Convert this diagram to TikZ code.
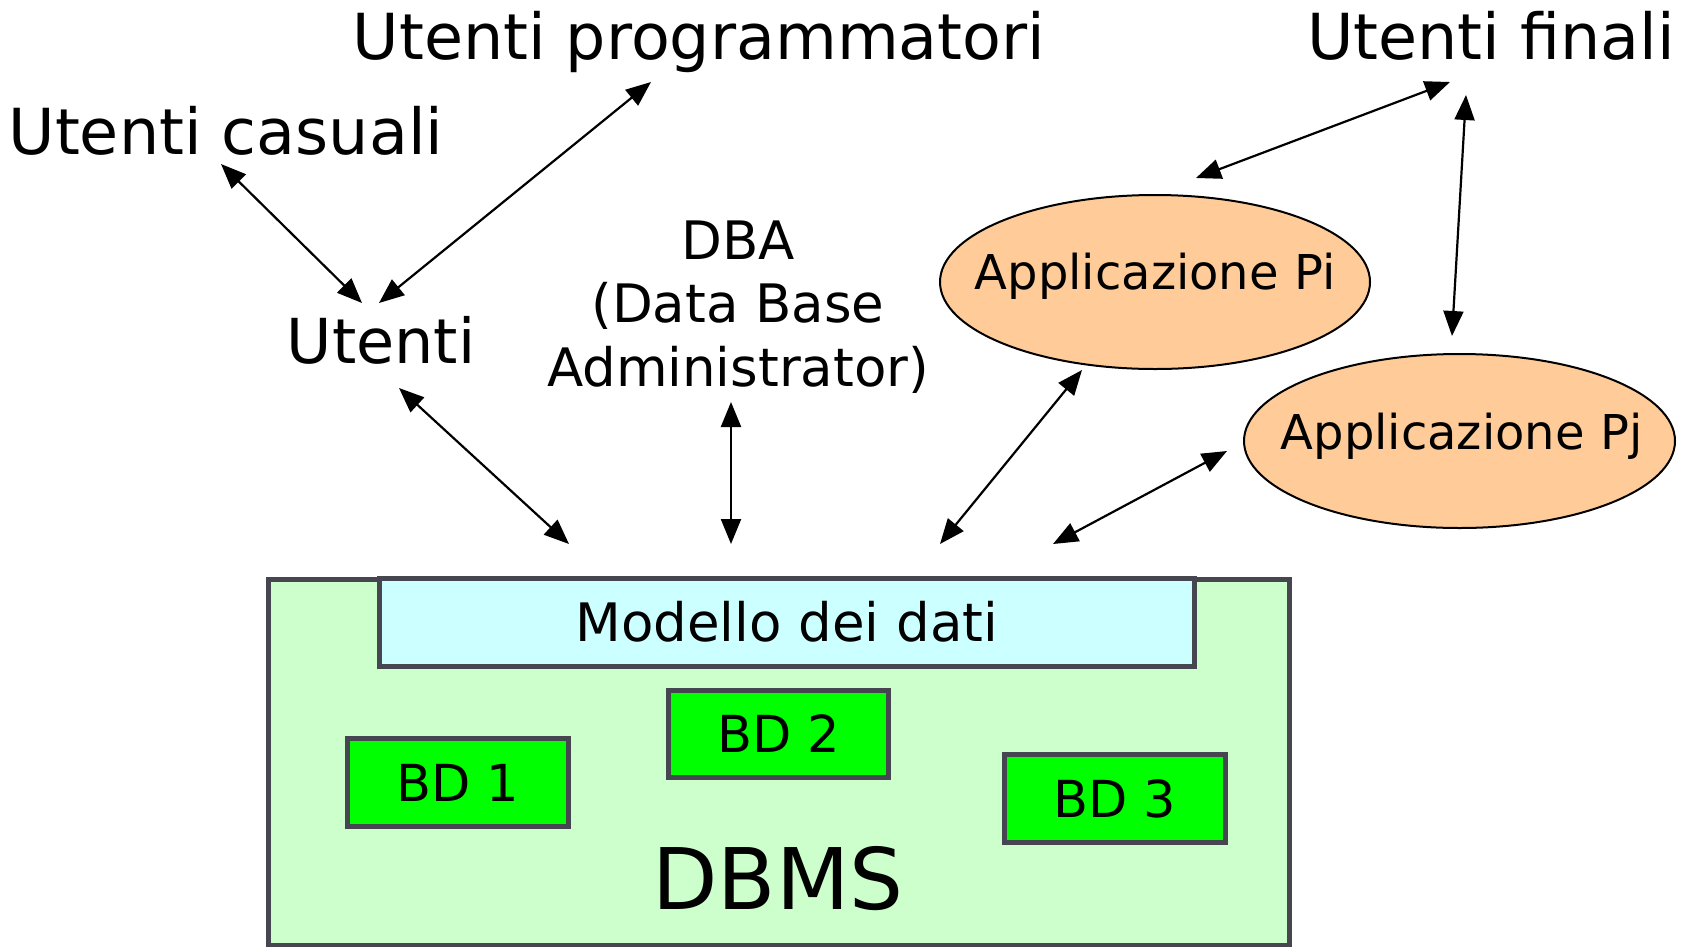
\documentclass[tikz,border=0pt]{standalone}
\usepackage{fontspec}
\setmainfont{DejaVu Sans}
\usetikzlibrary{arrows.meta,shapes.geometric}
\definecolor{appfill}{RGB}{255,204,153}
\definecolor{dbmsfill}{RGB}{204,255,204}
\definecolor{modfill}{RGB}{204,255,255}
\definecolor{bdfill}{RGB}{0,255,0}
\definecolor{boxline}{RGB}{70,70,80}
\begin{document}
\begin{tikzpicture}[x=1pt,y=-1pt,
  lbl/.style={anchor=base,inner sep=0pt,font=\fontsize{63.5}{70}\selectfont},
  conn/.style={line width=2.2pt,{Triangle[length=25pt,width=20pt]}-{Triangle[length=25pt,width=20pt]}},
  app/.style={ellipse,draw=black,line width=2pt,fill=appfill,inner sep=0pt},
  box/.style={rectangle,draw=boxline,line width=5pt,inner sep=0pt},
  bd/.style={box,fill=bdfill,minimum height=88pt,minimum width=221pt,font=\fontsize{51}{60}\selectfont}
]
\useasboundingbox (0,0) rectangle (1690,946);
\fill[white] (0,0) rectangle (1690,946);

% DBMS block
\node[box,fill=dbmsfill,minimum width=1021pt,minimum height=366pt] (dbms) at (778.5,762) {};
\node[box,fill=modfill,minimum width=814.5pt,minimum height=88pt,font=\fontsize{53}{60}\selectfont] (modello) at (786.75,622) {Modello dei dati};
\node[bd] (bd1) at (458,782.5) {BD 1};
\node[bd,minimum width=220pt,minimum height=87pt] (bd2) at (778.5,734) {BD 2};
\node[bd] (bd3) at (1115,798.5) {BD 3};
\node[lbl,font=\fontsize{85}{90}\selectfont] (dbmst) at (778,909) {DBMS};

% Applications
\node[app,minimum width=430pt,minimum height=174pt] (pi) at (1155,282) {};
\node[lbl,font=\fontsize{48}{56}\selectfont] (pitext) at (1155,289) {Applicazione Pi};
\node[app,minimum width=431pt,minimum height=174pt] (pj) at (1459.5,441) {};
\node[lbl,font=\fontsize{48}{56}\selectfont] (pjtext) at (1461.5,449) {Applicazione Pj};

% Labels
\node[lbl] (prog) at (699,59) {Utenti programmatori};
\node[lbl] (casuali) at (226,154) {Utenti casuali};
\node[lbl] (finali) at (1491,59) {Utenti finali};
\node[lbl,font=\fontsize{62}{70}\selectfont] (utenti) at (381,363) {Utenti};
\node[lbl,font=\fontsize{53}{60}\selectfont] (dba1) at (738,259) {DBA};
\node[lbl,font=\fontsize{53}{60}\selectfont] (dba2) at (738,322) {(Data Base};
\node[lbl,font=\fontsize{53}{60}\selectfont] (dba3) at (738,386) {Administrator)};

% Connector end points
\coordinate (a1s) at (221,164);  \coordinate (a1e) at (362,303);
\coordinate (a2s) at (651,82);   \coordinate (a2e) at (379,303);
\coordinate (a3s) at (399,388);  \coordinate (a3e) at (569,544);
\coordinate (a4s) at (731,402);  \coordinate (a4e) at (731,544);
\coordinate (a5s) at (1082,370); \coordinate (a5e) at (940,544);
\coordinate (a6s) at (1227,451); \coordinate (a6e) at (1053,544);
\coordinate (a7s) at (1450,82);  \coordinate (a7e) at (1196,178);
\coordinate (a8s) at (1466,95);  \coordinate (a8e) at (1452,336);

\draw[conn] (a1s) -- (a1e);
\draw[conn] (a2s) -- (a2e);
\draw[conn] (a3s) -- (a3e);
\draw[conn] (a4s) -- (a4e);
\draw[conn] (a5s) -- (a5e);
\draw[conn] (a6s) -- (a6e);
\draw[conn] (a7s) -- (a7e);
\draw[conn] (a8s) -- (a8e);
\end{tikzpicture}
\end{document}
